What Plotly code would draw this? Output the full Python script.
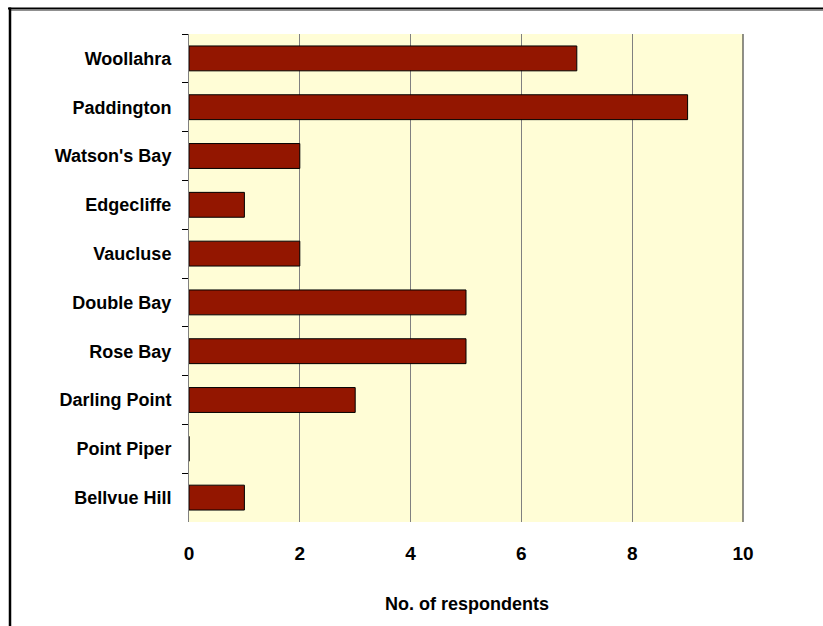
import plotly.graph_objects as go

suburbs = ["Woollahra", "Paddington", "Watson's Bay", "Edgecliffe", "Vaucluse",
           "Double Bay", "Rose Bay", "Darling Point", "Point Piper", "Bellvue Hill"]
respondents = [7, 9, 2, 1, 2, 5, 5, 3, 0, 1]
x_ticks = [0, 2, 4, 6, 8, 10]
x_title = "No. of respondents"

W, H = 823, 626
L, R, T, B = 189, 743, 34, 522
pw, ph = R - L, B - T

def px(x):
    return (x - L) / pw

def py(y):
    return (B - y) / ph

font_family = "Arial, Liberation Sans, sans-serif"

fig = go.Figure()
fig.add_trace(go.Bar(
    x=respondents, y=suburbs, orientation="h",
    marker=dict(color="#931600", line=dict(color="#000000", width=1)),
    hoverinfo="x+y",
))

fig.update_layout(
    width=W, height=H,
    margin=dict(l=L, r=W - R, t=T, b=H - B, pad=0),
    paper_bgcolor="white",
    plot_bgcolor="#FFFDD6",
    bargap=0.49,
    showlegend=False,
    font=dict(family=font_family, color="black"),
    xaxis=dict(
        range=[0, 10], tickvals=x_ticks, showgrid=True, gridcolor="#808080", gridwidth=1,
        zeroline=False, showline=False, ticks="", ticklabelstandoff=18,
        tickfont=dict(family=font_family, size=19, weight="bold", color="black"),
        fixedrange=True,
    ),
    yaxis=dict(
        autorange="reversed", tickson="boundaries", ticks="outside", ticklen=6,
        tickcolor="black", tickwidth=1, showgrid=False, showline=True,
        linecolor="#808080", linewidth=1, ticklabelstandoff=13,
        tickfont=dict(family=font_family, size=18, weight="bold", color="black"),
        fixedrange=True,
    ),
    annotations=[dict(
        text=x_title, xref="paper", yref="paper", x=px(383), y=py(604),
        showarrow=False, xanchor="left", yanchor="middle",
        font=dict(family=font_family, size=18, weight="bold", color="black"),
    )],
    shapes=[
        # right edge of plot area
        dict(type="line", xref="paper", yref="paper", x0=1, x1=1, y0=0, y1=1,
             line=dict(color="#202020", width=1)),
        # outer frame (top and left), with grey shadow
        dict(type="line", xref="paper", yref="paper", x0=px(8), x1=px(W + 20),
             y0=py(8.5), y1=py(8.5), line=dict(color="black", width=2)),
        dict(type="line", xref="paper", yref="paper", x0=px(11), x1=px(W + 20),
             y0=py(10.5), y1=py(10.5), line=dict(color="#909090", width=1)),
        dict(type="line", xref="paper", yref="paper", x0=px(10), x1=px(10),
             y0=py(7.5), y1=py(H + 20), line=dict(color="black", width=2.5)),
    ],
)

fig.write_html("out.html")
